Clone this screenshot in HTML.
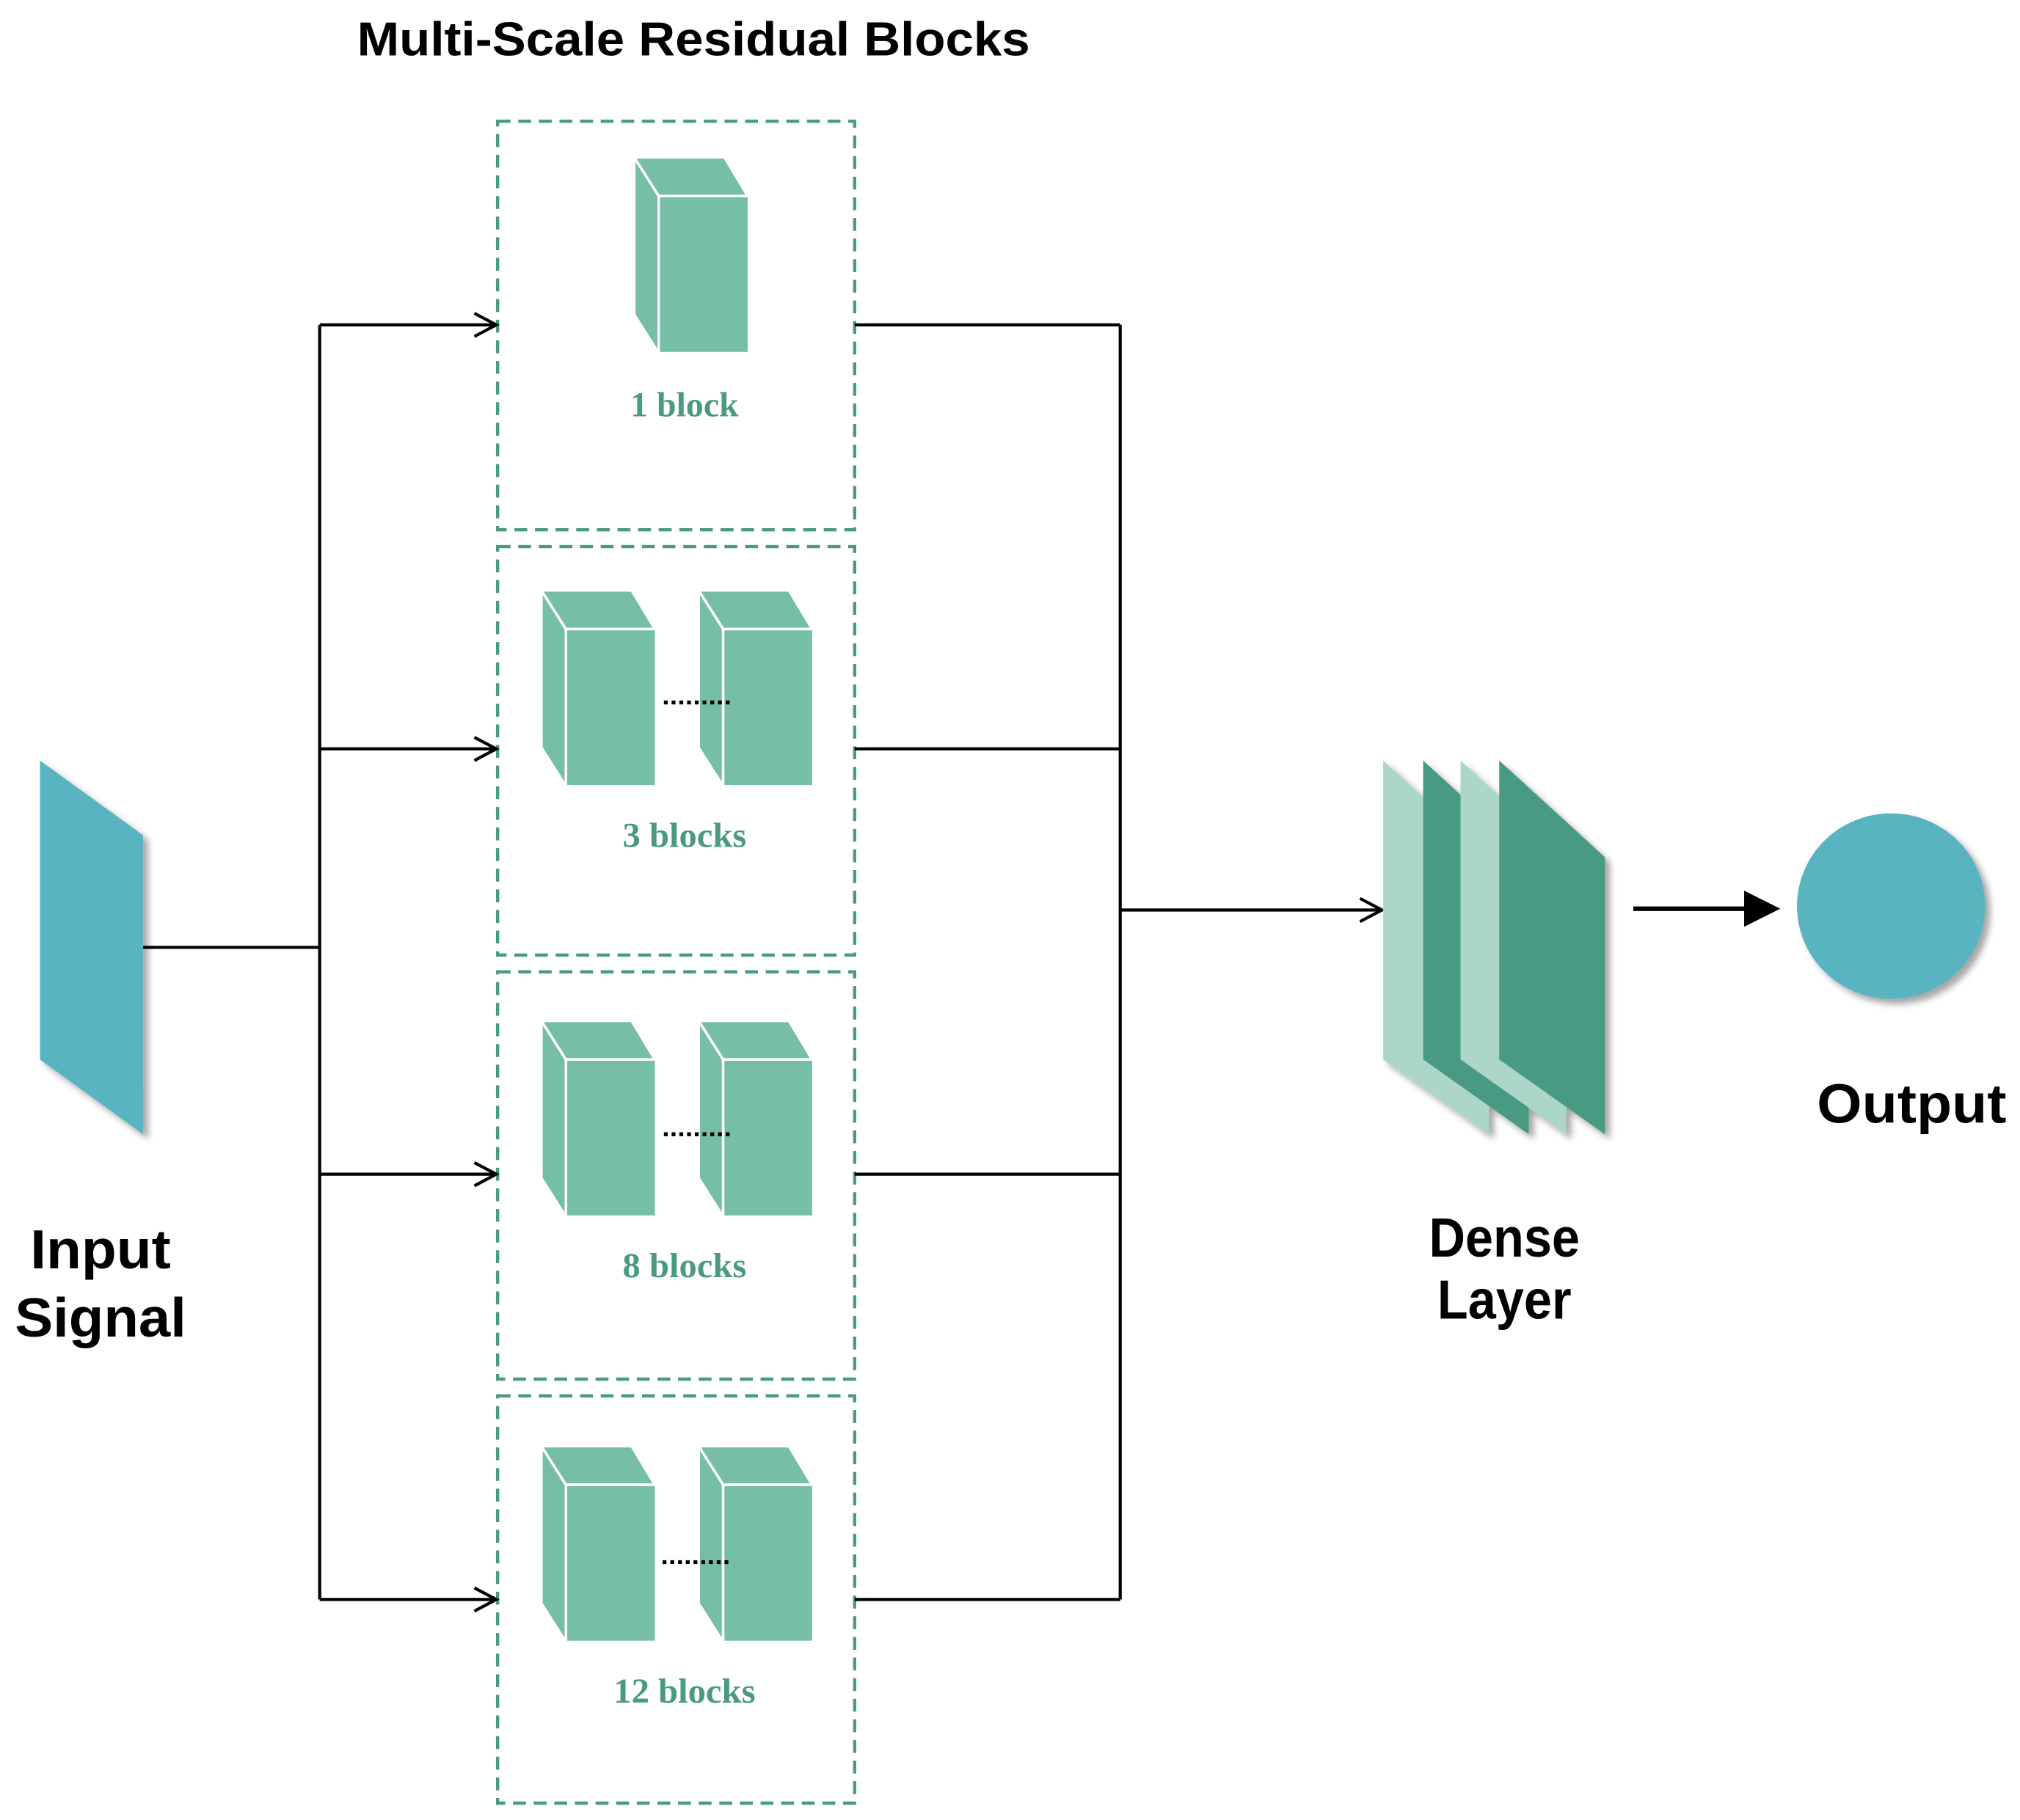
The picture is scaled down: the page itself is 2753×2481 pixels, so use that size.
<!DOCTYPE html>
<html><head><meta charset="utf-8"><style>
html,body{margin:0;padding:0;background:#fff;}
svg{display:block;}
</style></head><body>
<svg width="2753" height="2481" viewBox="0 0 1567 1412" xmlns="http://www.w3.org/2000/svg">
<defs>
<g id="cube">
<polygon points="0,0 19,30 19,152 0,122" fill="#76bea6" stroke="#fff" stroke-width="2"/>
<polygon points="0,0 70,0 88,30 19,30" fill="#76bea6" stroke="#fff" stroke-width="2"/>
<rect x="19" y="30" width="70" height="122" fill="#76bea6" stroke="#fff" stroke-width="2"/>
</g>
<filter id="sh" x="-20%" y="-20%" width="150%" height="150%">
<feDropShadow dx="4" dy="4" stdDeviation="2.5" flood-color="#000" flood-opacity="0.35"/>
</filter>
<marker id="open" markerWidth="22" markerHeight="22" refX="19" refY="11" orient="auto" markerUnits="userSpaceOnUse">
<path d="M2,2 L19,11 L2,20" fill="none" stroke="#000" stroke-width="2.4"/>
</marker>
</defs>

<text x="538" y="43" text-anchor="middle" font-family="Liberation Sans, sans-serif" font-weight="bold" font-size="37" textLength="522" lengthAdjust="spacingAndGlyphs">Multi-Scale Residual Blocks</text>

<g fill="none" stroke="#4a9a82" stroke-width="2.5" stroke-dasharray="10,6">
<rect x="386" y="94" width="277" height="317"/>
<rect x="386" y="424" width="277" height="317"/>
<rect x="386" y="754" width="277" height="316"/>
<rect x="386" y="1083" width="277" height="316"/>
</g>

<use href="#cube" x="492" y="122"/>
<use href="#cube" x="420" y="458"/><use href="#cube" x="542" y="458"/>
<use href="#cube" x="420" y="792"/><use href="#cube" x="542" y="792"/>
<use href="#cube" x="420" y="1122"/><use href="#cube" x="542" y="1122"/>

<g stroke="#000" stroke-width="3" stroke-dasharray="3,3">
<line x1="515" y1="545" x2="566" y2="545"/>
<line x1="515" y1="880" x2="566" y2="880"/>
<line x1="514" y1="1212" x2="565" y2="1212"/>
</g>

<g font-family="Liberation Serif, serif" font-size="27" font-weight="bold" fill="#4a9a82" text-anchor="middle">
<text x="531" y="323" textLength="84" lengthAdjust="spacingAndGlyphs">1 block</text>
<text x="531" y="657" textLength="96" lengthAdjust="spacingAndGlyphs">3 blocks</text>
<text x="531" y="991" textLength="96" lengthAdjust="spacingAndGlyphs">8 blocks</text>
<text x="531" y="1321" textLength="110" lengthAdjust="spacingAndGlyphs">12 blocks</text>
</g>

<polygon points="31,590 111,648 111,880 31,822" fill="#58b4c0" filter="url(#sh)"/>

<g stroke="#000" stroke-width="2.4" fill="none">
<line x1="111" y1="735" x2="248" y2="735"/>
<line x1="248" y1="252" x2="248" y2="1241"/>
<line x1="248" y1="252" x2="385" y2="252" marker-end="url(#open)"/>
<line x1="248" y1="581" x2="385" y2="581" marker-end="url(#open)"/>
<line x1="248" y1="911" x2="385" y2="911" marker-end="url(#open)"/>
<line x1="248" y1="1241" x2="385" y2="1241" marker-end="url(#open)"/>
<line x1="663" y1="252" x2="869" y2="252"/>
<line x1="663" y1="581" x2="869" y2="581"/>
<line x1="663" y1="911" x2="869" y2="911"/>
<line x1="663" y1="1241" x2="869" y2="1241"/>
<line x1="869" y1="252" x2="869" y2="1241"/>
<line x1="869" y1="706" x2="1072" y2="706" marker-end="url(#open)"/>
</g>

<g filter="url(#sh)">
<polygon points="1073,590 1155,665 1155,880 1073,822" fill="#acd6ca"/>
<polygon points="1104,590 1186,665 1186,880 1104,822" fill="#4a9a82"/>
<polygon points="1133,590 1215,665 1215,880 1133,822" fill="#acd6ca"/>
<polygon points="1163,590 1245,665 1245,880 1163,822" fill="#4a9a82"/>
</g>

<line x1="1267" y1="705" x2="1356" y2="705" stroke="#000" stroke-width="3.5"/>
<polygon points="1353,691 1381,705 1353,719" fill="#000"/>

<ellipse cx="1467" cy="703" rx="73" ry="72" fill="#58b4c0" filter="url(#sh)"/>

<g font-family="Liberation Sans, sans-serif" font-weight="bold" font-size="43" text-anchor="middle" fill="#000">
<text x="78" y="984" textLength="109" lengthAdjust="spacingAndGlyphs">Input</text>
<text x="78" y="1037" textLength="133" lengthAdjust="spacingAndGlyphs">Signal</text>
<text x="1167" y="975" textLength="117" lengthAdjust="spacingAndGlyphs">Dense</text>
<text x="1167" y="1023" textLength="104" lengthAdjust="spacingAndGlyphs">Layer</text>
<text x="1483" y="871" textLength="147" lengthAdjust="spacingAndGlyphs">Output</text>
</g>
</svg>
</body></html>
